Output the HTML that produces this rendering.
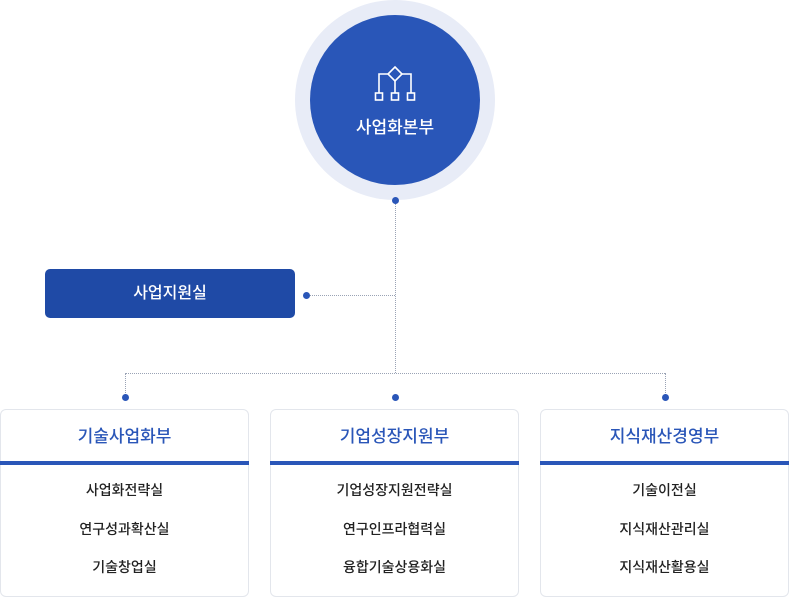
<!DOCTYPE html>
<html><head><meta charset="utf-8"><style>
body{margin:0;width:790px;height:597px;background:#fff;position:relative;overflow:hidden;font-family:"Liberation Sans","Noto Sans CJK KR",sans-serif}
.a{position:absolute}
.box{position:absolute;top:409px;width:247px;height:186px;border:1px solid #e3e6ec;border-radius:6px;background:#fff}
.box .h{height:51px;line-height:54px;text-align:center;color:#2a56b8;font-size:17px;font-weight:500}
.box .bar{height:4px;background:#2a56b8;margin:0 -1px}
.box .i{text-align:center;font-size:14px;font-weight:500;color:#222;height:38.5px;line-height:38.5px}
.box .l{padding-top:6px}
.dot{position:absolute;width:7px;height:7px;border-radius:50%;background:#2a56b8}
</style></head><body>
<div class="a" style="left:295px;top:0;width:200px;height:200px;border-radius:50%;background:#e8ecf7"></div>
<div class="a" style="left:310px;top:15px;width:170px;height:170px;border-radius:50%;background:#2956b8"></div>
<svg class="a" style="left:372px;top:63px" width="46" height="40" viewBox="0 0 46 40">
<g fill="none" stroke="#fff" stroke-width="1.6">
<path d="M23 4 L30 11 L23 18 L16 11 Z"/>
<path d="M16 11 H7 V30 M30 11 H39 V30 M23 18 V30"/>
<rect x="3.5" y="30" width="7" height="7"/><rect x="19.5" y="30" width="7" height="7"/><rect x="35.5" y="30" width="7" height="7"/>
</g></svg>
<div class="a" style="left:310px;top:113px;width:170px;text-align:center;color:#fff;font-size:17px;font-weight:500">사업화본부</div>
<div class="dot" style="left:392px;top:197px"></div>
<div class="a" style="left:395px;top:204px;height:169px;border-left:1px dotted #9aa3b5"></div>
<div class="a" style="left:306px;top:295px;width:89px;border-top:1px dotted #9aa3b5"></div>
<div class="dot" style="left:303px;top:292px"></div>
<div class="a" style="left:45px;top:269px;width:250px;height:49px;border-radius:5px;background:#1f4aa6;color:#fff;font-size:16px;font-weight:500;text-align:center;line-height:50px">사업지원실</div>
<div class="a" style="left:125px;top:373px;width:540px;border-top:1px dotted #9aa3b5"></div>
<div class="a" style="left:125px;top:373px;height:24px;border-left:1px dotted #9aa3b5"></div>
<div class="a" style="left:665px;top:373px;height:24px;border-left:1px dotted #9aa3b5"></div>
<div class="dot" style="left:122px;top:394px"></div>
<div class="dot" style="left:392px;top:394px"></div>
<div class="dot" style="left:662px;top:394px"></div>
<div class="box" style="left:0"><div class="h">기술사업화부</div><div class="bar"></div><div class="l"><div class="i">사업화전략실</div><div class="i">연구성과확산실</div><div class="i">기술창업실</div></div></div>
<div class="box" style="left:270px"><div class="h">기업성장지원부</div><div class="bar"></div><div class="l"><div class="i">기업성장지원전략실</div><div class="i">연구인프라협력실</div><div class="i">융합기술상용화실</div></div></div>
<div class="box" style="left:540px"><div class="h">지식재산경영부</div><div class="bar"></div><div class="l"><div class="i">기술이전실</div><div class="i">지식재산관리실</div><div class="i">지식재산활용실</div></div></div>
</body></html>
